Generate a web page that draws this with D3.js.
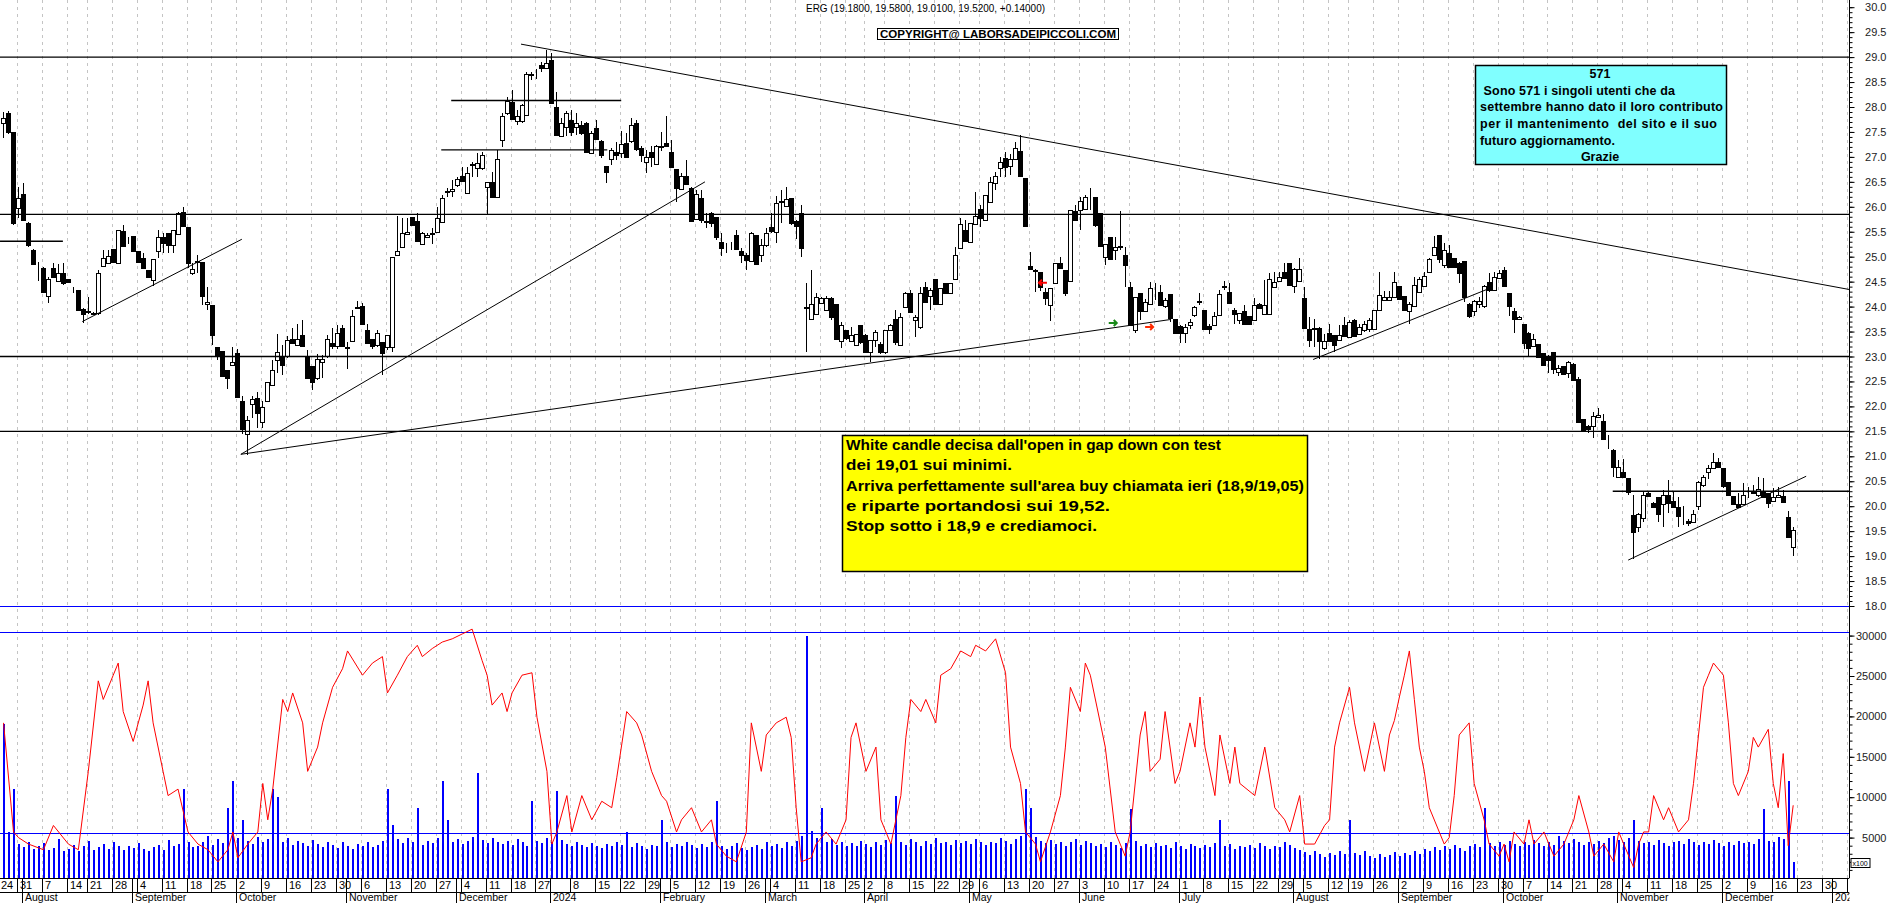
<!DOCTYPE html>
<html><head><meta charset="utf-8"><title>ERG</title>
<script src="https://cdn.jsdelivr.net/npm/d3@7/dist/d3.min.js"></script>
<style>
html,body{margin:0;padding:0;background:#fff;}
svg{display:block;font-family:Arial,"Liberation Sans",Helvetica,sans-serif;}
</style></head><body>
<svg id="chart" width="1890" height="903"></svg>
<script>
// ================= DATA =================
const firstDate = "2023-07-24";          // first date on the time axis
const firstCandleOffset = 2;             // first candle = 2023-07-26
const holidays = ["2023-08-15","2023-12-25","2023-12-26","2024-01-01","2024-03-29","2024-04-01","2024-05-01","2024-08-15"];
const monthNames = ["2024","February","March","April","May","June","July","August","September","October","November","December"];

const openP = [
27.68,27.87,27.49,25.97,
26.26,25.68,25.13,24.84,24.77,24.22,24.77,24.52,24.67,24.55,
24.32,24.33,23.95,23.89,23.86,23.87,24.82,24.88,25.15,24.87,
25.52,25.33,25.42,25.11,24.98,24.73,24.53,25.12,25.40,25.47,
25.23,25.46,25.90,25.60,24.68,24.90,24.90,24.06,24.03,23.20,
23.11,22.72,22.82,23.08,22.11,21.45,22.05,22.16,21.68,22.11,
22.43,22.92,23.02,23.00,23.35,23.23,23.43,23.02,22.80,22.56,
22.88,23.00,23.28,23.21,23.58,23.18,23.31,23.97,24.01,23.53,
23.35,23.23,23.30,23.20,23.20,25.03,25.20,25.45,25.79,25.72,
25.25,25.40,25.46,25.49,25.70,26.30,26.32,26.44,26.62,26.28,
26.84,26.77,26.77,26.39,26.50,26.20,27.34,27.87,28.11,27.71,
27.72,27.84,28.64,28.66,28.84,28.78,28.94,28.01,27.41,27.59,
27.74,27.59,27.64,27.67,27.07,27.57,27.31,26.82,26.95,27.09,
27.07,27.27,27.31,27.67,27.17,26.90,27.09,26.86,27.20,27.27,
27.09,26.75,26.35,26.62,26.37,25.75,26.17,25.70,25.88,25.79,
25.30,25.21,25.20,25.44,25.12,25.03,24.92,25.44,25.03,25.24,
25.60,25.50,26.10,26.02,26.17,25.72,25.87,23.97,23.75,23.85,
24.08,23.93,24.17,24.05,23.32,23.53,23.32,23.23,23.63,23.43,
23.10,23.33,23.26,23.10,23.54,23.76,23.23,24.00,24.27,23.73,
23.59,24.40,24.21,24.55,24.05,24.47,24.28,24.55,25.17,25.53,
25.30,25.65,25.95,25.73,26.10,26.47,26.77,26.97,26.82,26.95,
27.12,26.57,24.82,24.71,24.69,24.29,24.04,24.48,24.87,24.73,
24.52,25.92,25.94,25.95,26.15,26.19,25.88,25.00,25.39,25.13,
25.20,25.03,24.40,23.54,24.28,23.92,24.05,24.35,24.30,24.01,
24.25,23.75,23.62,23.48,23.64,23.84,24.10,23.94,23.62,23.63,
23.84,24.40,24.30,23.94,23.74,23.92,23.81,23.73,24.05,23.85,
23.85,24.40,24.51,24.70,24.87,24.42,24.52,24.17,23.56,23.55,
23.58,23.18,23.48,23.43,23.33,23.63,23.40,23.74,23.45,23.53,
23.56,23.55,23.94,24.13,24.13,24.19,24.41,24.21,23.92,24.01,
24.30,24.41,24.70,25.03,25.43,24.83,25.07,24.97,24.88,24.92,
24.05,23.92,24.05,24.01,24.50,24.33,24.57,24.73,24.28,23.92,
23.75,23.66,23.48,23.21,23.25,23.08,22.98,23.10,22.68,22.80,
22.66,22.85,22.54,21.74,21.61,21.61,21.78,21.71,21.38,21.13,
20.58,20.69,20.56,19.82,19.58,19.76,20.26,20.06,20.18,20.04,
20.22,20.10,19.99,19.80,19.70,19.69,20.01,20.42,20.69,20.76,
20.88,20.76,20.48,20.20,20.04,20.04,20.26,20.27,20.22,20.31,
20.26,20.11,20.18,20.20,19.78,19.18];

const highP = [
27.90,27.91,27.50,26.40,
26.47,25.70,25.15,24.90,24.80,24.60,24.87,24.85,24.87,24.56,
24.40,24.34,23.97,24.20,23.90,24.73,25.13,25.13,25.15,25.54,
25.63,25.40,25.42,25.12,25.08,24.74,24.96,25.53,25.47,25.47,
25.54,25.90,26.00,25.60,24.87,25.03,24.90,24.40,24.03,23.20,
23.11,22.72,23.20,23.16,22.20,21.80,22.21,22.28,22.10,22.49,
22.92,23.45,23.23,23.41,23.58,23.66,23.73,23.13,22.80,23.06,
23.03,23.43,23.58,23.63,23.63,23.30,23.93,24.12,24.07,23.66,
23.35,23.54,23.30,23.44,25.00,25.82,25.77,25.77,25.80,25.87,
25.50,25.47,25.57,26.00,26.24,26.37,26.54,26.60,26.80,26.80,
26.90,27.07,27.10,26.50,26.70,27.14,27.87,28.21,28.34,27.94,
28.07,28.71,28.71,28.76,28.91,29.14,29.08,28.31,27.77,27.91,
27.93,27.87,27.71,27.69,27.51,27.74,27.34,26.82,27.17,27.30,
27.51,27.47,27.77,27.74,27.21,27.14,27.21,27.24,27.49,27.82,
27.34,26.75,26.67,26.94,26.40,26.34,26.34,25.88,25.90,25.80,
25.48,25.27,25.30,25.54,25.17,25.07,25.50,25.44,25.35,25.58,
25.87,26.22,26.34,26.40,26.17,25.74,26.04,24.47,24.73,24.27,
24.20,24.21,24.20,24.05,23.70,23.53,23.60,23.46,23.63,23.46,
23.33,23.53,23.30,23.54,23.66,23.94,23.88,24.30,24.33,23.83,
24.40,24.50,24.37,24.55,24.37,24.47,24.47,25.20,25.77,25.73,
25.67,26.30,26.04,26.24,26.59,26.70,27.00,27.10,27.05,27.30,
27.44,26.57,25.10,24.75,24.70,24.37,24.38,24.87,25.00,24.73,
25.94,26.04,26.19,26.24,26.37,26.19,25.88,25.25,25.39,25.40,
25.92,25.20,24.50,24.20,24.28,24.15,24.50,24.47,24.43,24.17,
24.25,23.76,23.63,23.66,23.76,24.01,24.27,23.94,23.65,23.90,
24.33,24.51,24.47,23.98,23.88,24.03,23.81,24.18,24.07,24.53,
24.68,24.70,24.70,24.87,24.87,24.77,24.97,24.40,23.80,23.76,
23.60,23.46,23.66,23.43,23.63,23.80,23.73,23.76,23.66,23.72,
23.78,23.94,24.70,24.32,24.32,24.70,24.41,24.21,24.10,24.60,
24.60,24.70,24.97,25.41,25.43,25.27,25.23,24.97,24.90,24.92,
24.07,24.13,24.20,24.43,24.68,24.70,24.73,24.80,24.28,23.98,
23.82,23.66,23.50,23.46,23.25,23.08,23.03,23.10,22.83,22.80,
22.90,22.86,22.59,21.74,21.63,21.89,21.97,21.85,21.43,21.14,
20.93,20.94,20.56,20.22,19.86,20.31,20.29,20.09,20.18,20.32,
20.52,20.29,20.19,20.00,19.74,19.92,20.51,20.62,20.82,21.07,
20.96,20.76,20.48,20.20,20.26,20.46,20.39,20.42,20.59,20.56,
20.26,20.36,20.39,20.32,19.91,19.58];

const lowP = [
27.38,27.45,25.64,25.77,
25.74,25.20,24.83,24.52,24.29,24.07,24.57,24.52,24.43,24.49,
24.27,23.92,23.68,23.86,23.84,23.83,24.80,24.87,24.87,24.86,
25.22,25.25,25.12,24.89,24.76,24.58,24.41,24.97,25.07,25.07,
25.07,25.45,25.60,24.77,24.63,24.67,24.03,23.93,23.23,22.93,
22.60,22.34,22.80,22.17,21.45,21.02,21.76,21.56,21.56,22.10,
22.42,22.66,22.63,22.96,23.27,23.23,23.22,22.56,22.32,22.53,
22.56,22.96,23.16,23.16,23.20,22.75,23.30,23.96,23.63,23.28,
23.16,23.20,22.63,23.14,23.10,25.02,25.17,25.45,25.63,25.32,
25.23,25.37,25.25,25.47,25.70,26.20,26.20,26.40,26.52,26.27,
26.60,26.60,26.74,25.84,26.20,26.20,27.20,27.84,27.74,27.64,
27.67,27.82,28.54,28.57,28.71,28.77,28.07,27.41,27.39,27.41,
27.41,27.44,27.44,27.07,27.06,27.34,26.97,26.48,26.84,26.93,
26.97,26.97,27.27,27.11,26.90,26.67,26.80,26.84,27.11,27.19,
26.79,26.10,26.34,26.44,25.70,25.74,25.67,25.58,25.60,25.34,
25.01,25.07,25.14,25.14,24.87,24.73,24.90,24.83,24.90,25.20,
25.47,25.27,25.67,26.00,25.64,25.35,24.99,23.10,23.73,23.83,
24.07,23.92,23.73,23.34,23.18,23.33,23.30,23.21,23.26,23.10,
22.88,23.20,23.06,23.06,23.53,23.23,23.23,23.99,23.90,23.40,
23.56,24.07,23.93,24.03,24.03,24.27,24.27,24.53,25.15,25.30,
25.30,25.63,25.59,25.72,26.07,26.34,26.60,26.60,26.64,26.94,
26.59,25.62,24.75,24.30,24.32,24.03,23.72,24.47,24.75,24.22,
24.52,25.73,25.54,25.94,25.94,25.60,25.21,24.83,24.93,24.93,
25.13,24.40,23.61,23.47,23.73,23.90,24.03,24.13,24.03,23.97,
23.70,23.46,23.28,23.28,23.56,23.80,24.03,23.53,23.46,23.62,
23.83,24.33,24.05,23.65,23.66,23.65,23.63,23.71,23.95,23.83,
23.83,24.39,24.50,24.57,24.41,24.27,24.50,23.58,23.20,23.20,
22.94,23.13,23.30,23.10,23.32,23.40,23.38,23.40,23.43,23.50,
23.50,23.53,23.93,24.13,24.12,24.17,24.13,23.92,23.66,24.00,
24.28,24.40,24.70,25.01,24.87,24.77,24.77,24.77,24.48,24.10,
23.78,23.81,23.98,23.98,24.30,24.32,24.57,24.40,23.81,23.48,
23.73,23.16,23.00,23.20,22.98,22.80,22.66,22.65,22.60,22.63,
22.56,22.50,21.66,21.49,21.46,21.36,21.77,21.33,21.14,20.59,
20.56,20.58,20.22,18.95,19.49,19.69,20.20,19.96,19.69,19.59,
19.86,19.98,19.59,19.62,19.60,19.66,19.92,20.39,20.54,20.74,
20.78,20.36,20.20,20.02,19.98,20.02,20.16,20.24,20.19,20.16,
19.96,20.09,20.16,20.06,19.36,19.01];

const closeP = [
27.78,27.49,25.67,26.17,
25.74,25.23,24.85,24.83,24.30,24.55,24.59,24.68,24.48,24.50,
24.31,23.93,23.85,23.91,23.87,24.68,24.97,25.01,24.89,25.53,
25.22,25.33,25.12,24.90,24.77,24.60,24.95,25.39,25.27,25.23,
25.53,25.88,25.62,24.87,24.75,24.92,24.21,24.10,23.44,23.03,
22.61,22.56,22.88,22.18,21.55,21.72,22.15,21.87,21.99,22.48,
22.73,23.10,22.83,23.33,23.28,23.35,23.22,22.56,22.48,22.94,
22.94,23.35,23.21,23.48,23.21,23.19,23.82,24.00,23.65,23.28,
23.22,23.48,23.08,23.44,24.99,25.12,25.47,25.50,25.63,25.32,
25.47,25.44,25.48,25.77,26.17,26.31,26.35,26.55,26.52,26.68,
26.86,26.87,27.04,26.50,26.20,26.95,27.81,28.12,27.75,27.81,
28.04,28.67,28.67,28.67,28.78,28.89,28.09,27.44,27.67,27.87,
27.49,27.67,27.47,27.09,27.47,27.35,27.04,26.70,27.13,27.04,
27.26,26.99,27.64,27.16,27.04,26.99,26.99,27.22,27.21,27.21,
26.80,26.37,26.62,26.45,25.72,26.26,25.74,25.71,25.68,25.40,
25.17,25.22,25.20,25.15,25.03,24.93,25.48,24.85,25.24,25.48,
25.52,26.07,26.12,26.16,25.68,25.62,25.17,23.99,24.05,24.19,
24.17,24.17,23.79,23.36,23.63,23.38,23.43,23.46,23.30,23.10,
23.33,23.50,23.10,23.53,23.63,23.30,23.80,24.28,23.90,23.79,
24.27,24.10,24.33,24.06,24.37,24.28,24.47,25.03,25.65,25.32,
25.67,25.82,25.78,26.24,26.50,26.62,26.90,26.80,26.95,27.17,
26.62,25.62,24.75,24.74,24.40,24.18,24.38,24.87,24.77,24.27,
25.94,25.73,26.12,26.19,26.16,25.64,25.21,25.25,24.95,25.20,
25.21,24.83,23.63,24.19,23.92,24.10,24.37,24.36,24.03,24.13,
23.78,23.48,23.48,23.60,23.70,24.00,24.11,23.56,23.56,23.81,
24.25,24.41,24.07,23.85,23.88,23.66,23.66,24.03,23.97,24.03,
24.55,24.50,24.60,24.58,24.43,24.75,24.75,23.58,23.33,23.58,
23.32,23.31,23.32,23.23,23.43,23.41,23.70,23.41,23.60,23.66,
23.73,23.94,24.23,24.20,24.20,24.50,24.15,23.94,24.05,24.43,
24.55,24.61,24.95,25.19,24.95,25.13,24.79,24.79,24.68,24.20,
23.81,24.12,24.12,24.41,24.33,24.59,24.67,24.41,24.01,23.76,
23.79,23.28,23.18,23.35,22.98,22.83,22.93,22.74,22.76,22.65,
22.88,22.52,21.69,21.51,21.54,21.81,21.83,21.35,21.39,20.78,
20.78,20.59,20.29,19.49,19.84,20.22,20.20,19.99,19.84,20.22,
20.07,19.99,19.80,19.81,19.66,19.84,20.49,20.58,20.76,20.88,
20.79,20.40,20.22,20.04,19.99,20.22,20.27,20.28,20.34,20.19,
20.06,20.19,20.22,20.09,19.38,19.52];

// daily volume (axis units, x100 shares), one per candle
const volume = [
19000,5700,11000,4200,3800,4500,3600,3900,4300,3500,
3700,4800,3300,3600,4100,3400,3900,4600,3500,3800,
4200,3600,4400,3900,3500,4000,3700,4300,3600,3400,
3800,4100,3500,4700,3900,4200,11000,4400,3800,4000,
4500,5200,4100,4800,4300,8700,12000,5000,7200,4600,
4200,5100,4400,4800,11000,10000,4500,4900,4100,4600,
4300,3900,4700,4200,3800,4500,4100,3700,4400,4000,
3600,4200,3900,4500,3800,4100,4600,11000,6500,4800,
4300,4900,4400,8700,4100,4600,4300,5000,12000,7200,
4500,4800,4200,4600,5100,13000,4700,4300,4900,4500,
4200,4600,4100,4800,4400,4000,9500,4600,4300,4900,
4500,10800,4700,4200,3900,4400,4100,3800,4300,4000,
3700,4200,3900,4500,4100,5700,3800,4300,4000,3600,
4100,3900,7200,4400,3800,4200,3900,4500,4100,3700,
4200,3800,4400,9500,4000,3600,3900,4300,3700,3500,
3800,4100,3600,4400,3900,4200,3700,4500,4000,4600,
5200,30000,5800,4900,8700,4400,4800,4100,4500,3900,
4300,4000,4600,4200,3800,4400,4100,4700,4300,10200,
4500,4100,4800,4400,4000,4600,4200,4900,4300,4500,
4100,4700,4300,4600,4200,4800,4400,4100,4500,4300,
4900,4600,4200,4800,5200,11000,8700,5100,4600,4300,
4700,4200,4500,4000,4400,4800,4100,4600,4300,3900,
4200,3800,4500,4100,3700,4300,8500,4600,4000,4200,
3800,4300,3900,4100,3700,4400,4000,3600,4200,3900,
3700,4100,3800,4300,7200,3900,4200,3600,4000,3800,
4100,3700,4300,3900,3600,4000,3800,4400,4100,3700,
3500,3200,2800,3300,3000,2600,3100,2900,3400,3000,
7200,3100,2800,3300,2700,2500,3000,2600,2900,3200,
2700,3100,2800,3400,3000,3600,3300,3800,3500,3900,
3600,4100,3700,3400,3900,4200,3800,8700,4300,4000,
4400,4100,4600,4200,3900,4500,4100,4700,4300,4000,
4400,4100,5200,4600,4300,4800,4400,4100,4500,4200,
4600,4300,4900,5200,4700,4400,5000,7200,4600,4300,
4500,4100,4700,4300,4000,4400,4600,4200,4800,4400,
4100,4500,4200,4700,4300,4000,4400,4100,4600,4300,
4500,4200,4800,8500,4600,4400,5100,4800,12000,2000];

// red volume line: read at these date indices (same index as the time axis)
const volLineIdx = [2,4,5,7,10,12,15,17,19,21,22,24,25,26,28,30,31,32,34,35,37,39,41,43,45,47,48,49,51,53,54,55,56,58,59,60,62,63,65,66,68,70,71,74,76,78,79,81,83,85,86,88,90,92,94,96,98,99,100,102,103,104,106,108,109,111,112,113,115,116,118,120,122,124,125,127,129,130,132,134,135,137,138,140,142,144,145,147,149,151,152,154,155,157,159,160,161,162,164,165,167,169,171,172,173,175,177,178,180,182,183,184,186,187,189,190,192,194,196,197,199,201,203,204,206,207,209,210,212,214,215,216,218,219,220,222,223,225,226,227,228,230,231,232,234,235,237,238,240,241,242,243,245,246,248,249,250,253,255,257,259,260,262,263,265,267,268,269,270,272,273,275,276,277,279,280,281,282,283,284,285,286,287,288,290,291,292,293,294,296,297,299,300,302,303,304,305,307,308,309,311,313,315,316,317,318,320,321,323,325,326,327,329,330,331,332,333,335,336,338,340,341,343,344,345,347,348,349,350,352,353,354,356,357,358,359,360,361];
const volLineVal = [19200,5700,5000,4200,3500,6500,4200,3500,13200,24400,22100,25100,26600,20600,16900,21400,24400,19200,13200,10200,11000,5700,4200,3500,2000,3500,5700,2500,4200,5700,11700,7200,11000,22100,20600,22900,19200,13200,16200,19200,23600,25900,28100,25100,26600,27400,22900,25100,27400,28800,27400,28400,29200,29600,30200,30800,26900,25100,21400,22900,20600,22900,25100,25400,19900,13200,4200,5700,10200,5700,10200,7200,9500,8700,12400,20600,19200,17700,13200,10200,9500,5700,7200,8700,5700,7200,4200,2700,2000,5700,19200,13200,17700,19200,19900,17400,8700,2000,2500,4200,5700,4200,7200,17400,19200,13200,16200,7200,4200,10200,17400,22100,20600,22100,19200,25100,25900,28100,27400,28800,28100,29600,25400,16200,11700,5700,4200,2000,5700,10200,16200,23600,20600,26600,25100,19200,16200,5700,4200,2700,5700,17700,20600,13200,14700,20600,11700,13200,19200,16200,22400,16200,10200,17700,11700,16200,11700,10200,16200,8700,7200,5700,10200,4200,4200,6500,7200,16200,19200,23600,19200,13200,16200,19200,13200,17700,19500,22400,25100,28100,22100,16200,13200,8700,5700,4200,5000,10200,17700,19200,11700,7200,4200,2700,4200,2000,5700,4200,7200,4200,5700,2700,4200,5700,7200,10200,5700,2700,4200,2000,5700,4200,1300,4200,5700,5700,10200,7200,8700,5700,7200,11700,23600,25100,26600,25100,19200,11700,10200,13200,17400,16200,18400,11700,8700,15400,4000,9000];

const priceTicks = [18.0,18.5,19.0,19.5,20.0,20.5,21.0,21.5,22.0,22.5,23.0,23.5,24.0,24.5,25.0,25.5,26.0,26.5,27.0,27.5,28.0,28.5,29.0,29.5,30.0];
const volumeTicks = [5000,10000,15000,20000,25000,30000];

// drawn levels (price) and trend lines (date index j, price)
const fullLevels = [29.0, 25.85, 23.0, 21.5];
const shortLevels = [
  {p:25.31, j1:1.39, j2:14.0},
  {p:28.13, j1:91.9, j2:126.0},
  {p:27.14, j1:89.9, j2:123.2},
  {p:20.30, j1:324.9, j2:372.5}
];
const trendLines = [
  {j1:105.9, p1:29.26, j2:372.5, p2:24.34},
  {j1:17.9,  p1:23.70, j2:49.9,  p2:25.35},
  {j1:49.7,  p1:21.04, j2:142.8, p2:26.50},
  {j1:49.7,  p1:21.04, j2:236.1, p2:23.74},
  {j1:264.8, p1:22.94, j2:300.3, p2:24.37},
  {j1:328.0, p1:18.92, j2:363.7, p2:20.60}
];
const blueLevelsPrice = [18.0];
const blueLevelsVolume = [30500, 5600];
const arrows = [
  {j:210.6, p:24.48, dir:-1, color:"#ff0000"},
  {j:224.6, p:23.67, dir:1,  color:"#1a8a1a"},
  {j:231.9, p:23.59, dir:1,  color:"#ff2a00"}
];

const titleText = "ERG (19.1800, 19.5800, 19.0100, 19.5200, +0.14000)";
const copyrightText = "COPYRIGHT@ LABORSADEIPICCOLI.COM";
const cyanLines = ["571"," Sono 571 i singoli utenti che da","settembre hanno dato il loro contributo","per il mantenimento  del sito e il suo","futuro aggiornamento.","Grazie"];
const yellowLines = ["White candle decisa dall'open in gap down con test","dei 19,01 sui minimi.","Arriva perfettamente sull'area buy chiamata ieri (18,9/19,05)","e riparte portandosi sui 19,52.","Stop sotto i 18,9 e crediamoci."];

// ================= LAYOUT =================
const PLOT_R = 1849.5, VOL_BASE = 878;
const svg = d3.select("#chart");

// dates
const hol = new Set(holidays);
const lastDataIdx = firstCandleOffset + openP.length - 1;
const dates = [];
{
  const p = firstDate.split("-").map(Number);
  let d = new Date(Date.UTC(p[0], p[1]-1, p[2]));
  const end = Date.UTC(2025,0,8);
  while (d.getTime() < end) {
    const wd = d.getUTCDay();
    const iso = d.toISOString().slice(0,10);
    if (wd !== 0 && wd !== 6) {
      if (dates.length <= lastDataIdx) { if (!hol.has(iso)) dates.push(new Date(d)); }
      else dates.push(new Date(d));
    }
    d.setUTCDate(d.getUTCDate()+1);
  }
}
const aug1 = dates.findIndex(d => d.toISOString().slice(0,10) === "2023-08-01");
const x = d3.scaleLinear().domain([aug1, lastDataIdx]).range([23, 1792.7]);
const y = d3.scaleLinear().domain([18, 30]).range([606, 7.2]);
const yv = d3.scaleLinear().domain([0, 30000]).range([VOL_BASE, 635.6]);
const px = j => Math.round(x(j));

const defs = svg.append("defs");
defs.append("clipPath").attr("id","plotClip")
  .append("rect").attr("x",0).attr("y",0).attr("width",PLOT_R).attr("height",VOL_BASE);
defs.append("clipPath").attr("id","axisClip")
  .append("rect").attr("x",0).attr("y",VOL_BASE).attr("width",PLOT_R).attr("height",30);

// week starts and month starts
const weekStarts = [], monthStarts = [];
dates.forEach((d,i) => {
  if (i === 0) { weekStarts.push(i); return; }
  const prev = dates[i-1];
  if (+d3.utcMonday.floor(d) !== +d3.utcMonday.floor(prev)) weekStarts.push(i);
  if (d.getUTCMonth() !== prev.getUTCMonth()) monthStarts.push(i);
});
// day labels: skip when too close to the previous labelled week
const weekLabels = [];
weekStarts.forEach(j => { if (!weekLabels.length || j - weekLabels[weekLabels.length-1] >= 4) weekLabels.push(j); });

const plot = svg.append("g").attr("clip-path","url(#plotClip)");

// dashed weekly gridlines
plot.append("g").selectAll("line").data(weekStarts).join("line")
  .attr("x1", j => px(j)-0.5).attr("x2", j => px(j)-0.5)
  .attr("y1", 0).attr("y2", VOL_BASE)
  .attr("stroke", "#c4c4c4").attr("stroke-width",1).attr("stroke-dasharray","3,4");

// blue levels
plot.append("g").selectAll("line").data(blueLevelsPrice).join("line")
  .attr("x1",0).attr("x2",PLOT_R).attr("y1",v=>Math.round(y(v))+0.5).attr("y2",v=>Math.round(y(v))+0.5)
  .attr("stroke","#0000ff").attr("stroke-width",1);
plot.append("g").selectAll("line").data(blueLevelsVolume).join("line")
  .attr("x1",0).attr("x2",PLOT_R).attr("y1",v=>Math.round(yv(v))+0.5).attr("y2",v=>Math.round(yv(v))+0.5)
  .attr("stroke","#0000ff").attr("stroke-width",1);

// volume bars
plot.append("g").attr("shape-rendering","crispEdges")
  .selectAll("rect").data(volume.map((v,k)=>({j:k+firstCandleOffset, v}))).join("rect")
  .attr("x", d => px(d.j)).attr("width", 1.6)
  .attr("y", d => yv(d.v)).attr("height", d => yv(0)-yv(d.v))
  .attr("fill", "#0000ff");

// red line
plot.append("path").datum(volLineIdx.map((j,k)=>({j, v:volLineVal[k]})))
  .attr("fill","none").attr("stroke","#ff0000").attr("stroke-width",1)
  .attr("d", d3.line().x(d=>x(d.j)+0.5).y(d=>yv(d.v)));

// candles
const candles = openP.map((o,k) => ({j:k+firstCandleOffset, o, h:highP[k], l:lowP[k], c:closeP[k]}));
const cg = plot.append("g").attr("shape-rendering","crispEdges");
cg.selectAll("line").data(candles).join("line")
  .attr("x1", d=>px(d.j)+0.5).attr("x2", d=>px(d.j)+0.5)
  .attr("y1", d=>y(d.h)).attr("y2", d=>y(d.l))
  .attr("stroke","#000").attr("stroke-width",1);
cg.selectAll("rect").data(candles).join("rect")
  .attr("x", d=>px(d.j)-1.5).attr("width",4)
  .attr("y", d=>Math.round(y(Math.max(d.o,d.c)))+0.5)
  .attr("height", d=>Math.max(0, Math.round(y(Math.min(d.o,d.c))) - Math.round(y(Math.max(d.o,d.c)))))
  .attr("fill", d => d.c >= d.o ? "#fff" : "#000")
  .attr("stroke","#000").attr("stroke-width",1);

// levels
plot.append("g").selectAll("line").data(fullLevels).join("line")
  .attr("x1",0).attr("x2",PLOT_R).attr("y1",v=>y(v)).attr("y2",v=>y(v))
  .attr("stroke","#000").attr("stroke-width",1.3);
plot.append("g").selectAll("line").data(shortLevels).join("line")
  .attr("x1",d=>x(d.j1)).attr("x2",d=>x(d.j2)).attr("y1",d=>y(d.p)).attr("y2",d=>y(d.p))
  .attr("stroke","#000").attr("stroke-width",1.3);
plot.append("g").selectAll("line").data(trendLines).join("line")
  .attr("x1",d=>x(d.j1)).attr("x2",d=>x(d.j2)).attr("y1",d=>y(d.p1)).attr("y2",d=>y(d.p2))
  .attr("stroke","#000").attr("stroke-width",1);

// arrows
plot.append("g").selectAll("path").data(arrows).join("path")
  .attr("d", d => {
    const cx = x(d.j), cy = y(d.p), s = d.dir;
    return `M${cx-4*s},${cy} L${cx+4*s},${cy} M${cx+1*s},${cy-3} L${cx+4*s},${cy} L${cx+1*s},${cy+3}`;
  })
  .attr("fill","none").attr("stroke",d=>d.color).attr("stroke-width",2);

// ---------- annotations ----------
svg.append("text").attr("x",806).attr("y",12).attr("font-size",10.5).attr("fill","#000")
  .attr("textLength",239).attr("lengthAdjust","spacingAndGlyphs").text(titleText);
svg.append("rect").attr("x",877.5).attr("y",28.5).attr("width",241).attr("height",11)
  .attr("fill","#fff").attr("stroke","#000").attr("stroke-width",1);
svg.append("text").attr("x",880).attr("y",38.3).attr("font-size",11).attr("font-weight","bold")
  .attr("textLength",236).attr("lengthAdjust","spacingAndGlyphs").text(copyrightText);

// cyan box
svg.append("rect").attr("x",1475.5).attr("y",65.5).attr("width",251).attr("height",99)
  .attr("fill","#80ffff").attr("stroke","#000").attr("stroke-width",1.5);
const cyanX = [1600, 1480, 1480, 1480, 1480, 1600];
const cyanAnchor = ["middle","start","start","start","start","middle"];
const cyanY = [78, 94.5, 111, 128, 144.5, 161];
const cyanLen = [null, 195, 243, 237, 135, null];
svg.append("g").selectAll("text").data(cyanLines).join("text")
  .attr("x",(d,i)=>cyanX[i]).attr("y",(d,i)=>cyanY[i]).attr("text-anchor",(d,i)=>cyanAnchor[i])
  .attr("font-size",12.5).attr("font-weight","bold").attr("fill","#000")
  .attr("textLength",(d,i)=>cyanLen[i]).attr("lengthAdjust","spacing")
  .style("white-space","pre").text(d=>d);

// yellow box
svg.append("rect").attr("x",842.5).attr("y",435.5).attr("width",465).attr("height",136)
  .attr("fill","#ffff00").attr("stroke","#000").attr("stroke-width",1.5);
const yellowLen = [375, 166, 458, 264, 251];
svg.append("g").selectAll("text").data(yellowLines).join("text")
  .attr("x",846).attr("y",(d,i)=>450+i*20.3)
  .attr("font-size",15).attr("font-weight","bold").attr("fill","#000")
  .attr("textLength",(d,i)=>yellowLen[i]).attr("lengthAdjust","spacingAndGlyphs").text(d=>d);

// ---------- right axes ----------
const axG = svg.append("g").attr("transform",`translate(${PLOT_R},0)`);
axG.append("line").attr("x1",0).attr("x2",0).attr("y1",0).attr("y2",VOL_BASE).attr("stroke","#000");
const minorPrice = d3.range(180, 301).map(v => v/10);
axG.append("g").call(d3.axisRight(y).tickValues(minorPrice).tickSize(3).tickFormat(""))
  .call(g=>g.select(".domain").remove());
axG.append("g").call(d3.axisRight(y).tickValues(priceTicks).tickSize(5).tickFormat(d3.format(".1f")))
  .call(g=>g.select(".domain").remove())
  .call(g=>g.selectAll("text").attr("x",37).attr("text-anchor","end").attr("font-size",11)
    .attr("font-family","Arial,'Liberation Sans',sans-serif").attr("fill","#222"));
const minorVol = d3.range(1000, 31000, 1000);
axG.append("g").call(d3.axisRight(yv).tickValues(minorVol).tickSize(3).tickFormat(""))
  .call(g=>g.select(".domain").remove());
axG.append("g").call(d3.axisRight(yv).tickValues(volumeTicks).tickSize(5).tickFormat(d3.format("d")))
  .call(g=>g.select(".domain").remove())
  .call(g=>g.selectAll("text").attr("x",37).attr("text-anchor","end").attr("font-size",11)
    .attr("font-family","Arial,'Liberation Sans',sans-serif").attr("fill","#222"));
axG.append("rect").attr("x",1.5).attr("y",858.5).attr("width",19).attr("height",9)
  .attr("fill","#fff").attr("stroke","#000").attr("stroke-width",1);
axG.append("text").attr("x",3).attr("y",866).attr("font-size",7).attr("fill","#000").text("x100");

// ---------- date axis ----------
const dax = svg.append("g").attr("clip-path","url(#axisClip)");
dax.append("line").attr("x1",0).attr("x2",PLOT_R).attr("y1",VOL_BASE+0.5).attr("y2",VOL_BASE+0.5).attr("stroke","#000");
dax.append("line").attr("x1",0).attr("x2",PLOT_R).attr("y1",892.5).attr("y2",892.5).attr("stroke","#000");
dax.append("g").selectAll("line").data(weekLabels).join("line")
  .attr("x1",j=>px(j)-0.5).attr("x2",j=>px(j)-0.5).attr("y1",VOL_BASE).attr("y2",892)
  .attr("stroke","#000");
dax.append("g").selectAll("text").data(weekLabels).join("text")
  .attr("x",j=>Math.max(1, px(j)+2)).attr("y",889).attr("font-size",11).attr("fill","#000")
  .text(j=>dates[j].getUTCDate());
dax.append("g").selectAll("line").data(monthStarts).join("line")
  .attr("x1",j=>px(j)-0.5).attr("x2",j=>px(j)-0.5).attr("y1",VOL_BASE).attr("y2",903)
  .attr("stroke","#000");
dax.append("g").selectAll("text").data(monthStarts).join("text")
  .attr("x",j=>px(j)+2).attr("y",901).attr("font-size",10.5).attr("fill","#000")
  .text(j => { const m = dates[j].getUTCMonth(); return m === 0 ? String(dates[j].getUTCFullYear()) : monthNames[m]; });
</script>
</body></html>
